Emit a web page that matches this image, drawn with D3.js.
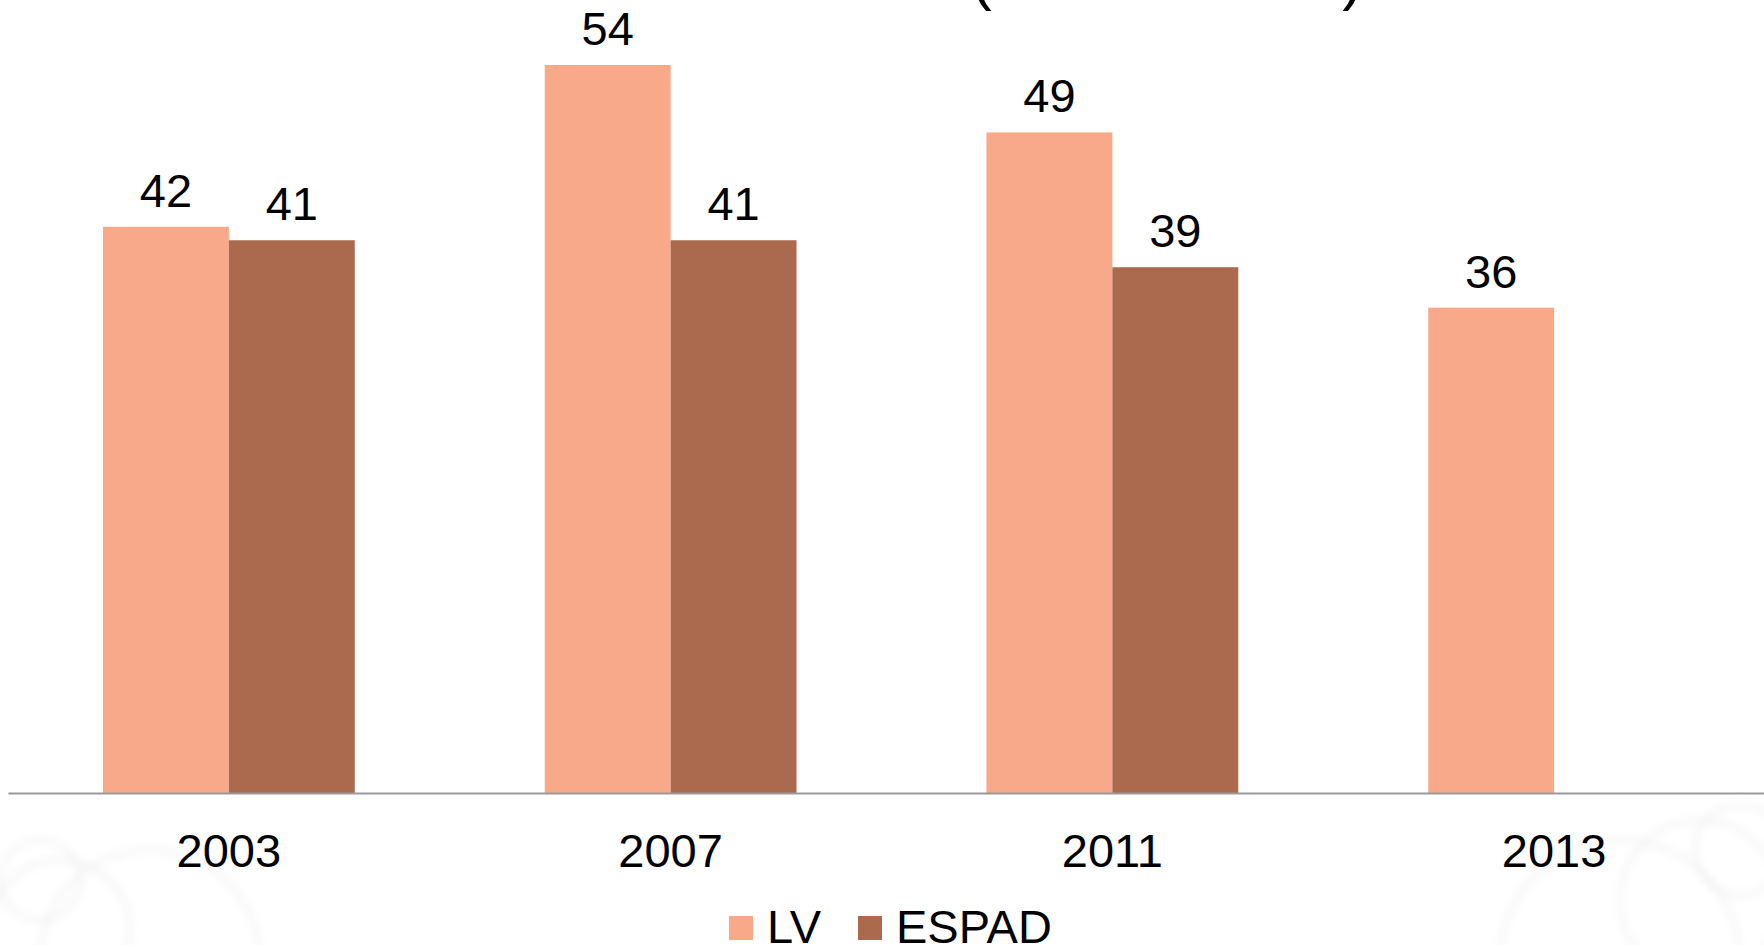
<!DOCTYPE html>
<html>
<head>
<meta charset="utf-8">
<script src="https://cdn.jsdelivr.net/npm/d3@7"></script>
<style>
    body { margin: 0; background: #fff; overflow: hidden; }
    svg { display: block; font-family: Arial, "Liberation Sans", sans-serif; }
</style>
</head>
<body>
<script>
const years = ["2003", "2007", "2011", "2013"];
const seriesNames = ["LV", "ESPAD"];
const lvValues = [42, 54, 49, 36];
const espadValues = [41, 41, 39, null];
const seriesColors = ["#f8a98a", "#ab6a4e"];

const w = 1764;
const h = 945;
const axisY = 793;

const svg = d3.select("body").append("svg")
    .attr("width", w).attr("height", h);

// faint swirl decoration in the bottom corners
svg.append("defs").append("filter").attr("id", "soft")
    .append("feGaussianBlur").attr("stdDeviation", 3);
const deco = svg.append("g").attr("fill", "none").attr("stroke", "#000")
    .attr("stroke-opacity", 0.018).attr("filter", "url(#soft)");
[[60, 930, 70], [150, 960, 110], [40, 880, 40], [1700, 900, 80], [1620, 960, 120], [1740, 850, 45]]
    .forEach(c => {
        deco.append("circle").attr("cx", c[0]).attr("cy", c[1]).attr("r", c[2]).attr("stroke-width", 10);
    });

// title, mostly cut off above the frame
svg.append("text")
    .attr("x", 1167)
    .attr("y", -2)
    .attr("text-anchor", "middle")
    .attr("font-size", 63)
    .text("(2003 – 2013)");

const x0 = d3.scaleBand()
    .domain(years)
    .range([8, 1775])
    .paddingInner(0.43)
    .paddingOuter(0.215);

const x1 = d3.scaleBand()
    .domain(seriesNames)
    .range([0, x0.bandwidth()]);

const yScale = d3.scaleLinear()
    .domain([0, 54])
    .range([axisY, 65]);

const rows = years.map((y, i) => ({ year: y, values: [lvValues[i], espadValues[i]] }));

const groups = svg.selectAll("g.year")
    .data(rows)
    .enter()
    .append("g")
    .attr("class", "year")
    .attr("transform", d => "translate(" + x0(d.year) + ",0)");

const cells = groups.selectAll("g.cell")
    .data(d => d.values.map((v, i) => ({ name: seriesNames[i], value: v, i: i })).filter(d => d.value != null))
    .enter()
    .append("g")
    .attr("class", "cell");

cells.append("rect")
    .attr("x", d => x1(d.name))
    .attr("y", d => yScale(d.value))
    .attr("width", x1.bandwidth())
    .attr("height", d => axisY - yScale(d.value))
    .attr("fill", d => seriesColors[d.i]);

cells.append("text")
    .attr("x", d => x1(d.name) + x1.bandwidth() / 2)
    .attr("y", d => yScale(d.value) - 20)
    .attr("text-anchor", "middle")
    .attr("font-size", 47)
    .attr("fill", "#000")
    .text(d => d.value);

const xAxis = d3.axisBottom(x0).tickSize(0).tickSizeOuter(0).tickPadding(41);
const gx = svg.append("g")
    .attr("transform", "translate(0," + axisY + ")")
    .call(xAxis);
gx.select(".domain").attr("stroke", "#9a9a9a").attr("stroke-width", 2);
gx.selectAll("text").attr("font-size", 47).attr("fill", "#000").attr("font-family", "Arial, 'Liberation Sans', sans-serif");

// legend
const legendX = [729, 858];
const legend = svg.selectAll("g.legend")
    .data(seriesNames)
    .enter()
    .append("g")
    .attr("class", "legend")
    .attr("transform", (d, i) => "translate(" + legendX[i] + ",0)");
legend.append("rect")
    .attr("x", 0).attr("y", 916)
    .attr("width", 24).attr("height", 24)
    .attr("fill", (d, i) => seriesColors[i]);
legend.append("text")
    .attr("x", 38).attr("y", 943)
    .attr("font-size", 47)
    .text(d => d);
</script>
</body>
</html>
